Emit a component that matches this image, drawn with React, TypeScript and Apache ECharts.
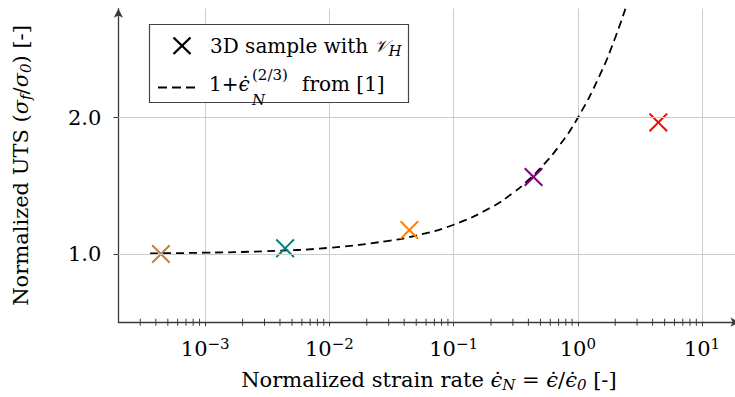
import React, { useEffect, useRef } from "react";
import * as echarts from "echarts";

// Measured samples (normalized strain rate, normalized UTS)
const sampleRates = [4.4e-4, 4.4e-3, 4.4e-2, 0.44, 4.45];
const sampleUTS = [1.0, 1.042, 1.176, 1.565, 1.966];
const sampleColors = ["#BF8040", "#008080", "#FF8000", "#800080", "#FF0000"];

// Reference curve 1 + rate^(2/3) from [1]
const curveRates = [3.6e-4, 1e-3, 3e-3, 1e-2, 3e-2, 5e-2, 0.1, 0.2, 0.3, 0.4, 0.5, 0.7, 1, 1.5, 2, 2.415];
const curveUTS = [1.005, 1.01, 1.021, 1.046, 1.097, 1.136, 1.215, 1.342, 1.448, 1.543, 1.63, 1.788, 2.0, 2.31, 2.587, 2.8];

// Axes
const xMin = 2e-4;
const xMax = 20;
const yMin = 0.5;
const yMax = 2.8;
const yTicks = [1.0, 2.0];
const minorMantissas = [2, 3, 4, 5, 6, 7, 8, 9];
const minorDecades = [1e-4, 1e-3, 1e-2, 1e-1, 1];

const FONT = "DejaVu Serif";
const FS = 21;
const FS_LEG = 20;
const FS_SMALL = 15;
const CROSS =
  "path://M1.5,0 L10,8.5 L18.5,0 L20,1.5 L11.5,10 L20,18.5 L18.5,20 L10,11.5 L1.5,20 L0,18.5 L8.5,10 L0,1.5 Z";

export default function App() {
  const ref = useRef<HTMLDivElement>(null);

  useEffect(() => {
    if (!ref.current) return;
    const chart = echarts.init(ref.current, undefined, { renderer: "svg" });

    const minorTicks: number[] = [];
    minorDecades.forEach((d) =>
      minorMantissas.forEach((m) => {
        const v = m * d;
        if (v > xMin * 1.0001 && v < xMax * 0.9999) minorTicks.push(v);
      })
    );

    const gridColor = "#cccccc";
    const axisColor = "#3a3a3a";

    const nameRich = {
      i: { fontFamily: FONT, fontSize: FS, fontStyle: "italic", color: "#000" },
      sub: { fontFamily: FONT, fontSize: FS_SMALL, fontStyle: "italic", color: "#000", padding: [9, 0, 0, 0] },
    };

    const option: any = {
      animation: false,
      backgroundColor: "#ffffff",
      grid: {
        left: 118.4,
        right: -4.4,
        top: 8.7,
        bottom: 74.8,
        containLabel: false,
        outerBoundsMode: "none",
      },
      xAxis: {
        type: "log",
        logBase: 10,
        min: xMin,
        max: xMax,
        axisLine: { show: true, lineStyle: { color: axisColor, width: 1.3 }, symbol: ["none", "arrow"], symbolSize: [7, 9] },
        axisTick: { show: true, length: 4, lineStyle: { color: axisColor, width: 1 } },
        splitLine: { show: true, lineStyle: { color: gridColor, width: 1 } },
        minorTick: { show: false },
        axisLabel: {
          margin: 14,
          fontFamily: FONT,
          fontSize: FS,
          color: "#000",
          showMinLabel: false,
          showMaxLabel: false,
          formatter: (v: number) => {
            const e = Math.log10(v);
            const r = Math.round(e);
            if (Math.abs(e - r) > 1e-6) return "";
            return `{b|10}{s|${r < 0 ? "\u2212" + -r : r}}`;
          },
          rich: {
            b: { fontFamily: FONT, fontSize: FS, color: "#000" },
            s: { fontFamily: FONT, fontSize: FS_SMALL, color: "#000", padding: [0, 0, 11, 0] },
          },
        },
        name: "Normalized strain rate {i|\u03F5\u0307}{sub|N} = {i|\u03F5\u0307}/{i|\u03F5\u0307}{sub|0} [-]",
        nameLocation: "middle",
        nameGap: 46,
        nameTextStyle: { fontFamily: FONT, fontSize: FS, color: "#000", rich: nameRich },
      },
      yAxis: {
        type: "value",
        min: yMin,
        max: yMax,
        axisLine: { show: true, lineStyle: { color: axisColor, width: 1.3 }, symbol: ["none", "arrow"], symbolSize: [7, 9] },
        axisTick: { show: true, length: 5, customValues: yTicks, lineStyle: { color: axisColor, width: 1 } },
        splitLine: { show: false },
        axisLabel: {
          margin: 17,
          fontFamily: FONT,
          fontSize: FS,
          color: "#000",
          customValues: yTicks,
          formatter: (v: number) => v.toFixed(1),
        },
        name: "Normalized UTS ({i|\u03C3}{sub|f}/{i|\u03C3}{sub|0}) [-]",
        nameLocation: "middle",
        nameGap: 85,
        nameRotate: 90,
        nameTextStyle: { fontFamily: FONT, fontSize: FS, color: "#000", rich: nameRich },
      },
      series: [
        {
          type: "line",
          name: "grid",
          data: [],
          silent: true,
          z: 0,
          markLine: {
            silent: true,
            symbol: "none",
            label: { show: false },
            lineStyle: { color: gridColor, type: "solid", width: 1 },
            data: yTicks.map((v) => ({ yAxis: v })),
          },
        },
        {
          type: "scatter",
          name: "minor ticks",
          data: minorTicks.map((v) => [v, yMin]),
          symbol: "rect",
          symbolSize: [1, 7],
          itemStyle: { color: axisColor, opacity: 1 },
          clip: false,
          silent: true,
          z: 5,
        },
        {
          type: "line",
          name: "1 + rate^(2/3) from [1]",
          data: curveRates.map((x, i) => [x, curveUTS[i]]),
          smooth: true,
          showSymbol: false,
          symbol: "none",
          lineStyle: { color: "#000", width: 1.8, type: [8, 5] },
          z: 3,
        },
        {
          type: "scatter",
          name: "3D sample",
          data: sampleRates.map((x, i) => ({
            value: [x, sampleUTS[i]],
            itemStyle: { color: sampleColors[i], opacity: 1 },
          })),
          symbol: CROSS,
          symbolSize: 19,
          z: 4,
        },
      ],
      graphic: [
        {
          type: "rect",
          z: 100,
          shape: { x: 149.5, y: 24.5, width: 259, height: 78 },
          style: { fill: "#fff", stroke: "#444", lineWidth: 1.2 },
        },
        { type: "line", z: 101, shape: { x1: 173.5, y1: 37.5, x2: 190.5, y2: 54 }, style: { stroke: "#000", lineWidth: 2.4 } },
        { type: "line", z: 101, shape: { x1: 190.5, y1: 37.5, x2: 173.5, y2: 54 }, style: { stroke: "#000", lineWidth: 2.4 } },
        {
          type: "text",
          z: 101,
          x: 210,
          y: 46,
          style: {
            text: "3D sample with {cal|\uD835\uDCB1}{sub|H}",
            fontFamily: FONT,
            fontSize: FS_LEG,
            fill: "#000",
            verticalAlign: "middle",
            rich: {
              cal: { fontFamily: FONT, fontSize: 17, fontStyle: "italic", fill: "#000" },
              sub: { fontFamily: FONT, fontSize: FS_SMALL, fontStyle: "italic", fill: "#000", padding: [9, 0, 0, 0] },
            },
          },
        },
        {
          type: "line",
          z: 101,
          shape: { x1: 158, y1: 87.5, x2: 197, y2: 87.5 },
          style: { stroke: "#000", lineWidth: 1.8, lineDash: [9, 5] },
        },
        {
          type: "text",
          z: 101,
          x: 209,
          y: 84,
          style: {
            text: "1+{i|\u03F5\u0307}",
            fontFamily: FONT,
            fontSize: FS_LEG,
            fill: "#000",
            verticalAlign: "middle",
            rich: { i: { fontFamily: FONT, fontSize: FS_LEG, fontStyle: "italic", fill: "#000" } },
          },
        },
        {
          type: "text",
          z: 101,
          x: 252,
          y: 100,
          style: { text: "N", fontFamily: FONT, fontSize: FS_SMALL, fontStyle: "italic", fill: "#000", verticalAlign: "middle" },
        },
        {
          type: "text",
          z: 101,
          x: 252,
          y: 75,
          style: { text: "(2/3)", fontFamily: FONT, fontSize: FS_SMALL, fill: "#000", verticalAlign: "middle" },
        },
        {
          type: "text",
          z: 101,
          x: 302,
          y: 84,
          style: { text: "from [1]", fontFamily: FONT, fontSize: FS_LEG, fill: "#000", verticalAlign: "middle" },
        },
      ],
    };

    chart.setOption(option);
    return () => chart.dispose();
  }, []);

  return (
    <div
      ref={ref}
      style={{ position: "fixed", left: 0, top: 0, width: 735, height: 397, background: "#fff" }}
    />
  );
}
